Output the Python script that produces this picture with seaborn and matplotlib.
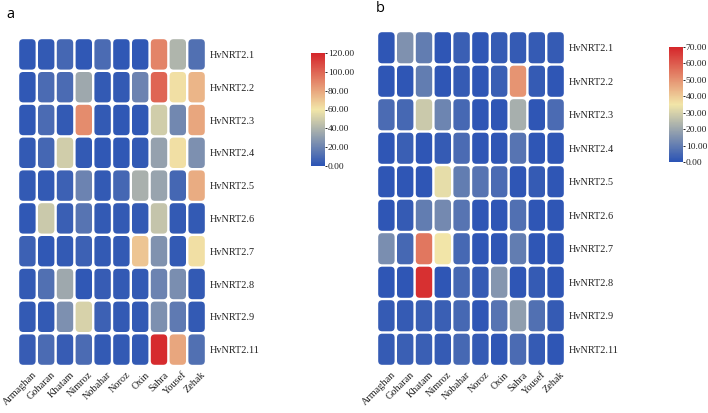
import numpy as np
import pandas as pd
import seaborn as sns
import matplotlib
matplotlib.use("Agg")
import matplotlib.pyplot as plt
import matplotlib.transforms as mtrans
from matplotlib.colors import LinearSegmentedColormap
from matplotlib.patches import FancyBboxPatch

cultivars = ["Armaghan", "Goharan", "Khatam", "Nimroz", "Nobahar", "Noroz", "Oxin", "Sahra", "Yousef", "Zehak"]
genes = ["HvNRT2.1", "HvNRT2.2", "HvNRT2.3", "HvNRT2.4", "HvNRT2.5", "HvNRT2.6", "HvNRT2.7", "HvNRT2.8", "HvNRT2.9", "HvNRT2.11"]

values_a = [
    [2, 3, 8, 2, 10, 2, 2, 90, 40, 12],
    [2, 10, 10, 35, 3, 3, 20, 100, 62, 75],
    [2, 10, 3, 88, 3, 2, 2, 50, 22, 80],
    [3, 8, 50, 3, 2, 2, 3, 32, 62, 25],
    [3, 3, 6, 20, 3, 8, 38, 33, 8, 78],
    [2, 48, 5, 14, 3, 3, 3, 46, 3, 3],
    [6, 2, 3, 6, 3, 3, 70, 26, 3, 62],
    [3, 12, 35, 2, 4, 3, 3, 20, 24, 3],
    [3, 3, 25, 52, 6, 3, 3, 25, 16, 3],
    [4, 10, 4, 10, 3, 3, 3, 118, 80, 12],
]
values_b = [
    [1, 15, 10, 1, 3, 1, 2, 2, 2, 2],
    [1, 1, 10, 1, 2, 1, 3, 50, 2, 1],
    [6, 5, 28, 12, 5, 1, 1, 22, 1, 6],
    [1, 3, 1, 2, 6, 1, 1, 8, 1, 1],
    [1, 1, 1, 33, 10, 8, 6, 1, 2, 1],
    [1, 2, 10, 13, 8, 1, 1, 7, 1, 1],
    [14, 5, 55, 35, 5, 1, 1, 10, 1, 1],
    [1, 1, 68, 1, 5, 2, 16, 1, 2, 1],
    [2, 2, 3, 3, 5, 1, 8, 18, 7, 2],
    [2, 3, 3, 2, 5, 2, 1, 6, 2, 1],
]
vmax_a = 120
vmax_b = 70
ticks_a = [0, 20, 40, 60, 80, 100, 120]
ticks_b = [0, 10, 20, 30, 40, 50, 60, 70]

cmap = LinearSegmentedColormap.from_list("bw", ["#2a53b5", "#f2e6a8", "#d5252a"])

serif = ["Liberation Serif", "DejaVu Serif"]

fig = plt.figure(figsize=(7.08, 4.13), dpi=100)


def panel(values, vmax, ticks, hm_rect, cb_rect, letter, letter_xy):
    df = pd.DataFrame(values, index=genes, columns=cultivars)
    ax = fig.add_axes(hm_rect)
    cax = fig.add_axes(cb_rect)
    sns.heatmap(df, ax=ax, cbar_ax=cax, cmap=cmap, vmin=0, vmax=vmax,
                cbar_kws={"ticks": ticks, "format": "%.2f"})
    mesh = ax.collections[0]
    mesh.set_visible(False)
    arr = df.values
    w_px = hm_rect[2] * 708 / arr.shape[1]
    h_px = hm_rect[3] * 413 / arr.shape[0]
    gx = 1.2 / w_px
    gy = 1.2 / h_px
    r = 4.0 / w_px
    for i in range(arr.shape[0]):
        for j in range(arr.shape[1]):
            col = mesh.cmap(mesh.norm(arr[i, j]))
            p = FancyBboxPatch((j + gx, i + gy), 1 - 2 * gx, 1 - 2 * gy,
                               boxstyle=f"round,pad=0,rounding_size={r}",
                               mutation_aspect=w_px / h_px,
                               facecolor=col, edgecolor="none")
            ax.add_patch(p)
    ax.yaxis.tick_right()
    ax.set_yticks(np.arange(len(genes)) + 0.5)
    ax.set_yticklabels(genes, rotation=0, fontsize=7.4, family=serif, color="#222222")
    ax.set_xticks(np.arange(len(cultivars)) + 0.5)
    ax.set_xticklabels(cultivars, rotation=45, ha="right", rotation_mode="anchor",
                       fontsize=7.4, family=serif, color="#222222")
    ax.tick_params(axis="both", length=0, pad=3)
    off = mtrans.ScaledTranslation(0.045, 0, fig.dpi_scale_trans)
    for t in ax.get_xticklabels():
        t.set_transform(t.get_transform() + off)
    ax.set_xlabel("")
    ax.set_ylabel("")
    cax.tick_params(length=1.5, width=0.6, pad=0.5, labelsize=6.8)
    for t in cax.get_yticklabels():
        t.set_family(serif)
        t.set_color("#222222")
    cax.collections[0].set_edgecolor("face")
    for s in cax.spines.values():
        s.set_visible(False)
    fig.text(letter_xy[0], letter_xy[1], letter, fontsize=10.5,
             family=["Open Sans", "DejaVu Sans"], ha="left", va="center")


panel(values_a, vmax_a, ticks_a,
      [18 / 708, (413 - 366) / 413, 188 / 708, (366 - 38) / 413],
      [311 / 708, (413 - 166) / 413, 14 / 708, 113 / 413],
      "a", (6 / 708, 1 - 14 / 413))
panel(values_b, vmax_b, ticks_b,
      [377 / 708, (413 - 366) / 413, 188 / 708, (366 - 31) / 413],
      [669 / 708, (413 - 162) / 413, 14 / 708, 115 / 413],
      "b", (376 / 708, 1 - 8 / 413))

fig.savefig("out.png", dpi=100)
